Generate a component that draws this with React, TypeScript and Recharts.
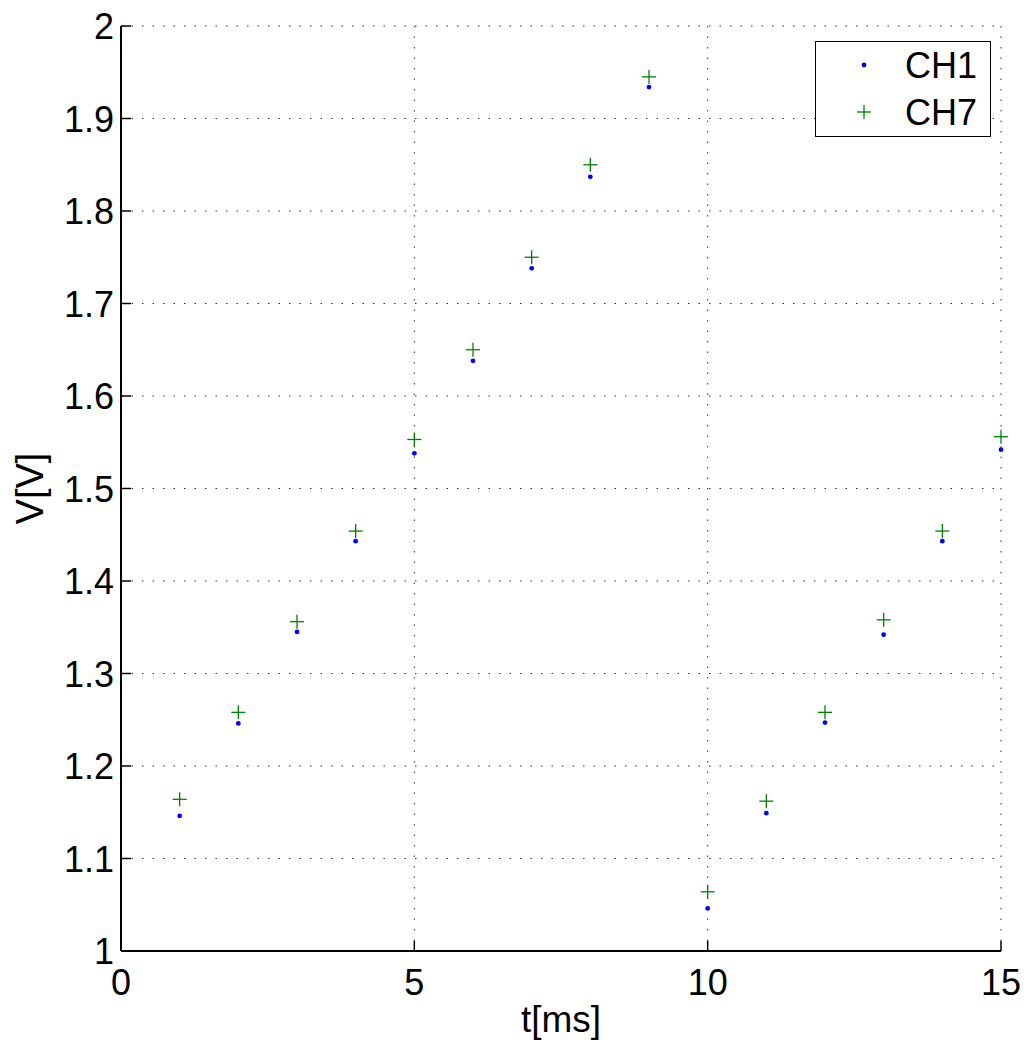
import { CartesianGrid, Legend, Scatter, ScatterChart, XAxis, YAxis } from "recharts";

const FONT = "'Liberation Sans', Arial, Helvetica, sans-serif";

const times = [1, 2, 3, 4, 5, 6, 7, 8, 9, 10, 11, 12, 13, 14, 15];
const ch1 = [1.146, 1.246, 1.345, 1.443, 1.538, 1.638, 1.738, 1.837, 1.934, 1.046, 1.149, 1.247, 1.342, 1.443, 1.542];
const ch7 = [1.164, 1.258, 1.356, 1.454, 1.553, 1.650, 1.750, 1.850, 1.945, 1.064, 1.162, 1.258, 1.358, 1.454, 1.556];

const xTicks = [0, 5, 10, 15];
const yTicks = [1, 1.1, 1.2, 1.3, 1.4, 1.5, 1.6, 1.7, 1.8, 1.9, 2];

const ch1Data = times.map((t, i) => ({ t, v: ch1[i] }));
const ch7Data = times.map((t, i) => ({ t, v: ch7[i] }));

const BLUE = "#0000ff";
const GREEN = "#008000";

function Dot(props: any) {
  const { cx, cy } = props;
  return <circle cx={cx} cy={cy} r={2.4} fill={BLUE} />;
}

function Plus(props: any) {
  const { cx, cy } = props;
  return (
    <g stroke={GREEN} strokeWidth={1.3}>
      <line x1={cx - 7} y1={cy} x2={cx + 7} y2={cy} />
      <line x1={cx} y1={cy - 7} x2={cx} y2={cy + 7} />
    </g>
  );
}

function BottomTick(props: any) {
  const { x, y, payload } = props;
  return (
    <g>
      <line x1={x} y1={y} x2={x} y2={y - 10} stroke="#000" strokeWidth={1.5} />
      <text x={x} y={y + 44} textAnchor="middle" fontSize={36} fontFamily={FONT} fill="#000">
        {payload.value}
      </text>
    </g>
  );
}

function TopTick(props: any) {
  const { x, y } = props;
  return <line x1={x} y1={y} x2={x} y2={y + 10} stroke="#000" strokeWidth={1.5} />;
}

function LeftTick(props: any) {
  const { x, y, payload } = props;
  const v = Number(payload.value);
  const label = Number.isInteger(v) ? String(v) : v.toFixed(1);
  return (
    <g>
      <line x1={x} y1={y} x2={x + 10} y2={y} stroke="#000" strokeWidth={1.5} />
      <text x={x - 7} y={y + 13} textAnchor="end" fontSize={36} fontFamily={FONT} fill="#000">
        {label}
      </text>
    </g>
  );
}

function RightTick(props: any) {
  const { x, y } = props;
  return <line x1={x} y1={y} x2={x - 10} y2={y} stroke="#000" strokeWidth={1.5} />;
}

function LegendBox() {
  return (
    <div
      style={{
        width: 174,
        height: 94,
        border: "1.5px solid #000",
        background: "#fff",
        position: "relative",
      }}
    >
      <svg width={174} height={94} style={{ position: "absolute", left: 0, top: 0 }}>
        <circle cx={48} cy={23} r={2.4} fill={BLUE} />
        <g stroke={GREEN} strokeWidth={1.3}>
          <line x1={41} y1={70} x2={55} y2={70} />
          <line x1={48} y1={63} x2={48} y2={77} />
        </g>
        <text x={89} y={36} fontSize={36} fontFamily={FONT} fill="#000">CH1</text>
        <text x={89} y={83} fontSize={36} fontFamily={FONT} fill="#000">CH7</text>
      </svg>
    </div>
  );
}

export default function App() {
  return (
    <div style={{ position: "absolute", left: 0, top: 0, width: 1028, height: 1044, background: "#fff" }}>
      <ScatterChart width={1028} height={1044} margin={{ top: 26, right: 27, bottom: 0, left: 0 }}>
        <CartesianGrid
          xAxisId="b"
          yAxisId="l"
          stroke="#333"
          strokeDasharray="1.5 9"
          strokeWidth={1}
        />
        <XAxis
          xAxisId="b"
          dataKey="t"
          type="number"
          domain={[0, 15]}
          ticks={xTicks}
          height={93}
          tickSize={0}
          tickMargin={0}
          tickLine={false}
          axisLine={{ stroke: "#000", strokeWidth: 2 }}
          tick={<BottomTick />}
          label={{ value: "t[ms]", position: "insideBottom", offset: 12, fontSize: 37, fontFamily: FONT, fill: "#000" }}
        />
        <XAxis
          xAxisId="t"
          orientation="top"
          type="number"
          domain={[0, 15]}
          ticks={xTicks}
          height={0}
          tickSize={0}
          tickMargin={0}
          tickLine={false}
          axisLine={{ stroke: "#000", strokeWidth: 2 }}
          tick={<TopTick />}
        />
        <YAxis
          yAxisId="l"
          dataKey="v"
          type="number"
          domain={[1, 2]}
          ticks={yTicks}
          width={121}
          tickSize={0}
          tickMargin={0}
          tickLine={false}
          axisLine={{ stroke: "#000", strokeWidth: 2 }}
          tick={<LeftTick />}
          label={{ value: "V[V]", angle: -90, position: "insideLeft", offset: 30, fontSize: 38, fontFamily: FONT, fill: "#000", style: { textAnchor: "middle" } }}
        />
        <YAxis
          yAxisId="r"
          orientation="right"
          type="number"
          domain={[1, 2]}
          ticks={yTicks}
          width={0}
          tickSize={0}
          tickMargin={0}
          tickLine={false}
          axisLine={{ stroke: "#000", strokeWidth: 2 }}
          tick={<RightTick />}
        />
        <Scatter name="CH1" data={ch1Data} xAxisId="b" yAxisId="l" shape={<Dot />} isAnimationActive={false} />
        <Scatter name="CH7" data={ch7Data} xAxisId="b" yAxisId="l" shape={<Plus />} isAnimationActive={false} />
        <Legend
          layout="vertical"
          align="center"
          verticalAlign="middle"
          wrapperStyle={{ left: 815, top: 41, width: 176, height: 96 }}
          content={() => <LegendBox />}
        />
      </ScatterChart>
    </div>
  );
}
